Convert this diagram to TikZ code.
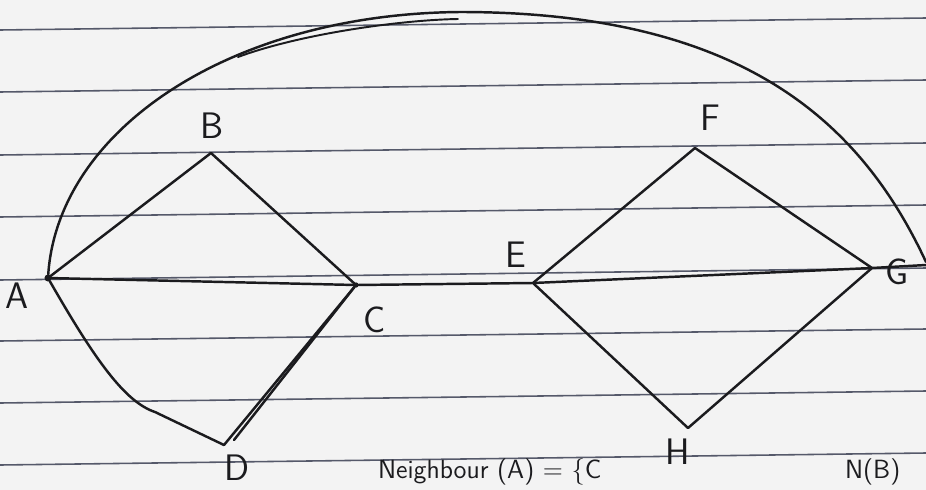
\documentclass[tikz,border=0pt]{standalone}
\usetikzlibrary{arrows.meta}
\definecolor{penInk}{HTML}{1B1B1E}
\definecolor{ruleGray}{HTML}{55596A}
\definecolor{paperWhite}{HTML}{F3F3F3}
\tikzset{
  hand diagram/.style={
    draw=penInk, line width=1.4pt, line cap=round, line join=round,
    every node/.style={font=\sffamily\fontsize{21}{25}\selectfont,
      text=penInk, inner sep=0pt, outer sep=0pt}
  },
  hand rule/.style={draw=ruleGray, line width=0.9pt},
  hand vertex/.style={inner sep=0pt, minimum size=0pt},
  hand blob/.style={circle, fill=penInk, minimum size=4pt},
  hand note/.style={anchor=south west, font=\sffamily\fontsize{15}{18}\selectfont}
}
\begin{document}
\begin{tikzpicture}[hand diagram,x=0.02cm,y=-0.02cm]
    \useasboundingbox[fill=paperWhite] (0,0) rectangle (926,490);
    \clip (0,0) rectangle (926,490);
    % ruled paper
    \foreach \y in {30,92,155,217,280,341,403,465}
      \draw[hand rule] (0,\y) -- (926,\y-12);
    % vertices
    \node[hand vertex,hand blob] (A) at (48,278) {};
    \node[hand vertex] (B) at (211,153) {};
    \node[hand vertex,hand blob,minimum size=3pt] (C) at (356,285) {};
    \node[hand vertex] (D) at (224,445) {};
    \node[hand vertex] (E) at (533,283) {};
    \node[hand vertex] (F) at (695,148) {};
    \node[hand vertex] (G) at (872,268) {};
    \node[hand vertex] (H) at (688,428) {};
    \coordinate (top) at (460,12);
    \coordinate (rim) at (926,262);
    \coordinate (lineEnd) at (926,265);
    % edges
    \draw (A) -- (B) -- (C);
    \draw (A) -- (C) -- (E) -- (G) -- (lineEnd);
    \draw (A) .. controls (95,360) and (125,402) .. (155,412) -- (D);
    \draw (D) -- (C);
    \draw ([shift={(10,-5)}]D.center) -- (C);
    \draw (E) -- (F) -- (G);
    \draw (E) -- (H) -- (G);
    \draw (A) .. controls (58,130) and (230,14) .. (top)
              .. controls (740,12) and (860,120) .. (rim);
    \draw[line width=1.1pt] (238,57) .. controls (300,34) and (400,20) .. (458,19);
    % labels
    \node (lA) at (17,296) {A};
    \node (lB) at (212,126) {B};
    \node (lC) at (375,320) {C};
    \node (lD) at (237,468) {D};
    \node (lE) at (516,255) {E};
    \node (lF) at (710,118) {F};
    \node (lG) at (897,272) {G};
    \node (lH) at (678,452) {H};
    \node[hand note] (note) at (378,485) {Neighbour (A) = \{C};
    \node[hand note] (noteB) at (845,485) {N(B)};
\end{tikzpicture}
\end{document}
